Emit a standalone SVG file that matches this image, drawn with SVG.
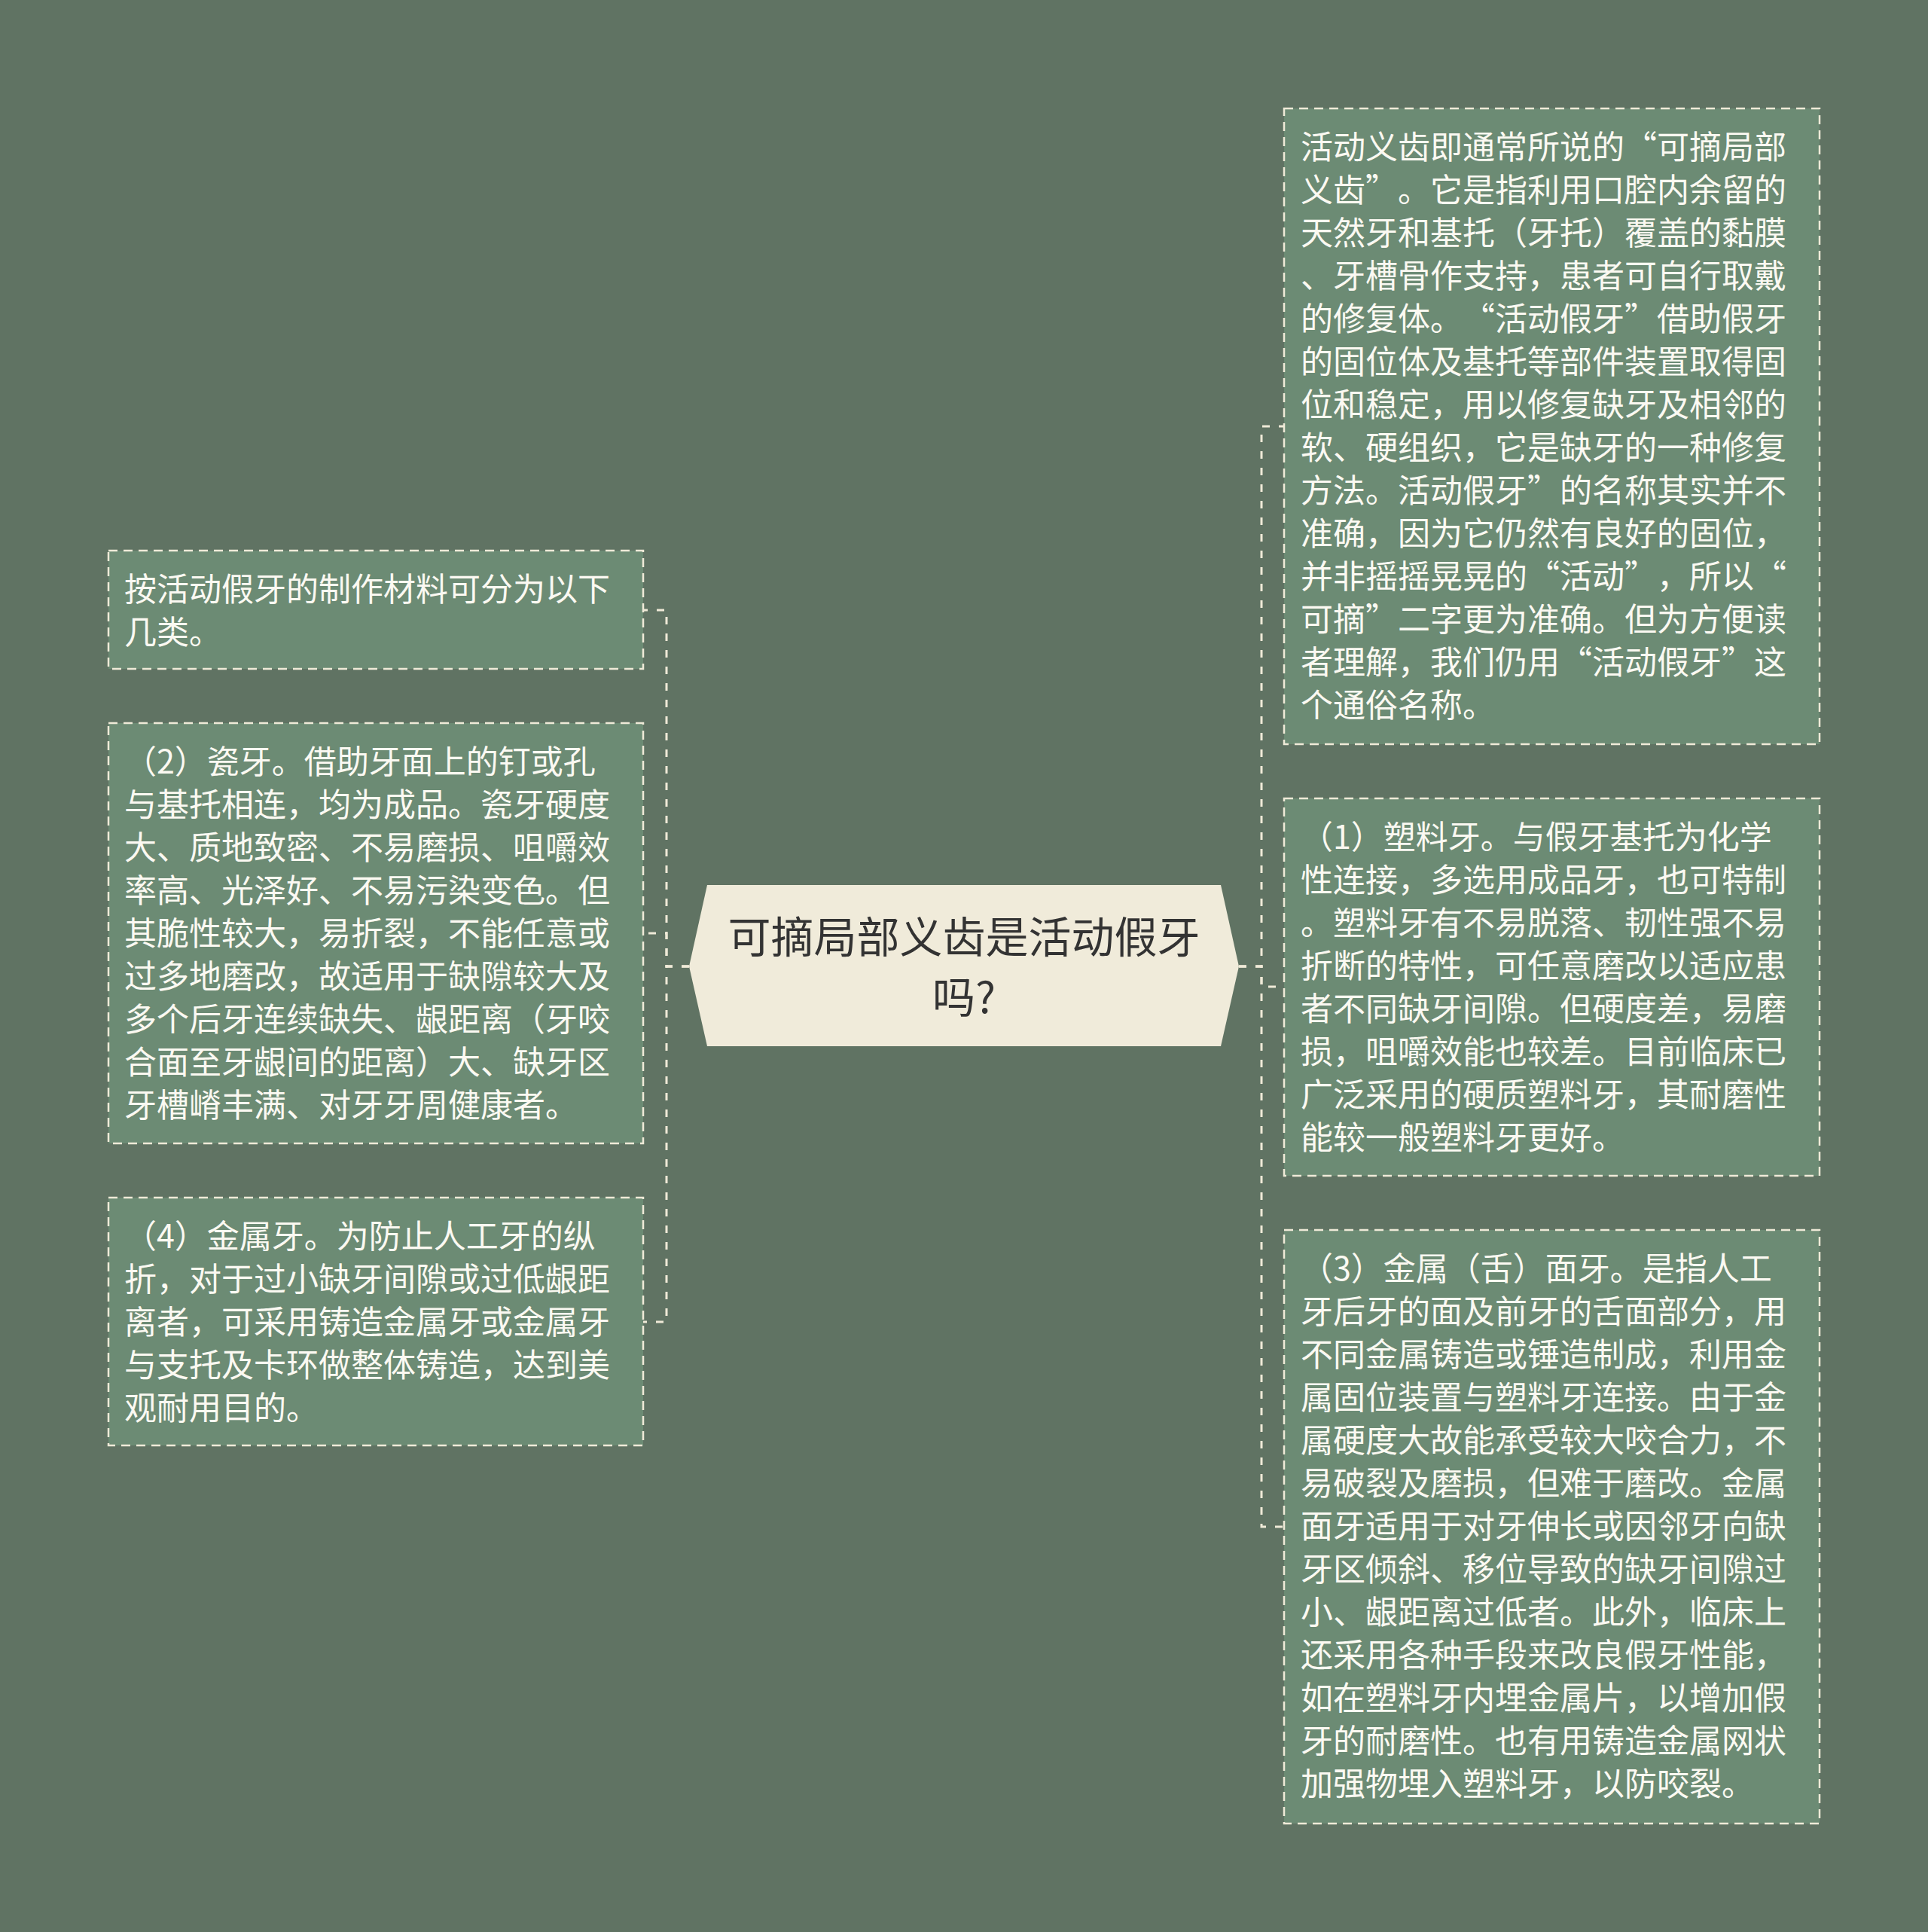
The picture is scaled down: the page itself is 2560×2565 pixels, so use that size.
<svg xmlns="http://www.w3.org/2000/svg" width="2560" height="2565" viewBox="0 0 2560 2565">
<style>
.bg{fill:#607363}
.box{fill:#6C8B74;stroke:#EFEAD8;stroke-width:2.5;stroke-dasharray:12 8}
.t{font-family:"Noto Sans CJK SC","Noto Sans",sans-serif;font-size:43px;fill:#FBF9F2;text-spacing-trim:space-all}
.ct{font-family:"Noto Sans CJK SC","Noto Sans",sans-serif;font-size:57px;fill:#333333;text-anchor:middle;text-spacing-trim:space-all}
.con{fill:none;stroke:#EFEAD8;stroke-width:3;stroke-dasharray:10 12}
.center{fill:#F0EBDA}
</style>
<rect class="bg" x="0" y="0" width="2560" height="2565"/>
<g id="connectors">
<path class="con" d="M915,1283 H885 V810 H854"/>
<path class="con" d="M915,1283 H885 V1239 H854"/>
<path class="con" d="M915,1283 H885 V1755 H854"/>
<path class="con" d="M1645,1283 H1675 V566 H1705"/>
<path class="con" d="M1645,1283 H1675 V1310 H1705"/>
<path class="con" d="M1645,1283 H1675 V2027 H1705"/>
</g>
<g id="center">
<polygon class="center" points="939,1175 1621,1175 1645,1283 1621,1389 939,1389 915,1283"/>
<text class="ct" x="1280" y="1265">可摘局部义齿是活动假牙</text>
<text class="ct" x="1280" y="1345">吗?</text>
</g>
<g id="L1">
<rect class="box" x="144" y="731" width="710" height="157"/>
<text class="t" x="165" y="798">按活动假牙的制作材料可分为以下</text>
<text class="t" x="165" y="855">几类。</text>
</g>
<g id="L2">
<rect class="box" x="144" y="960" width="710" height="558"/>
<text class="t" x="165" y="1027">（2）瓷牙。借助牙面上的钉或孔</text>
<text class="t" x="165" y="1084">与基托相连，均为成品。瓷牙硬度</text>
<text class="t" x="165" y="1141">大、质地致密、不易磨损、咀嚼效</text>
<text class="t" x="165" y="1198">率高、光泽好、不易污染变色。但</text>
<text class="t" x="165" y="1255">其脆性较大，易折裂，不能任意或</text>
<text class="t" x="165" y="1312">过多地磨改，故适用于缺隙较大及</text>
<text class="t" x="165" y="1369">多个后牙连续缺失、龈距离（牙咬</text>
<text class="t" x="165" y="1426">合面至牙龈间的距离）大、缺牙区</text>
<text class="t" x="165" y="1483">牙槽嵴丰满、对牙牙周健康者。</text>
</g>
<g id="L3">
<rect class="box" x="144" y="1590" width="710" height="329"/>
<text class="t" x="165" y="1657">（4）金属牙。为防止人工牙的纵</text>
<text class="t" x="165" y="1714">折，对于过小缺牙间隙或过低龈距</text>
<text class="t" x="165" y="1771">离者，可采用铸造金属牙或金属牙</text>
<text class="t" x="165" y="1828">与支托及卡环做整体铸造，达到美</text>
<text class="t" x="165" y="1885">观耐用目的。</text>
</g>
<g id="R1">
<rect class="box" x="1705" y="144" width="711" height="844"/>
<text class="t" x="1727" y="211">活动义齿即通常所说的“可摘局部</text>
<text class="t" x="1727" y="268">义齿”。它是指利用口腔内余留的</text>
<text class="t" x="1727" y="325">天然牙和基托（牙托）覆盖的黏膜</text>
<text class="t" x="1727" y="382">、牙槽骨作支持，患者可自行取戴</text>
<text class="t" x="1727" y="439">的修复体。“活动假牙”借助假牙</text>
<text class="t" x="1727" y="496">的固位体及基托等部件装置取得固</text>
<text class="t" x="1727" y="553">位和稳定，用以修复缺牙及相邻的</text>
<text class="t" x="1727" y="610">软、硬组织，它是缺牙的一种修复</text>
<text class="t" x="1727" y="667">方法。活动假牙”的名称其实并不</text>
<text class="t" x="1727" y="724">准确，因为它仍然有良好的固位，</text>
<text class="t" x="1727" y="781">并非摇摇晃晃的“活动”，所以“</text>
<text class="t" x="1727" y="838">可摘”二字更为准确。但为方便读</text>
<text class="t" x="1727" y="895">者理解，我们仍用“活动假牙”这</text>
<text class="t" x="1727" y="952">个通俗名称。</text>
</g>
<g id="R2">
<rect class="box" x="1705" y="1060" width="711" height="501"/>
<text class="t" x="1727" y="1127">（1）塑料牙。与假牙基托为化学</text>
<text class="t" x="1727" y="1184">性连接，多选用成品牙，也可特制</text>
<text class="t" x="1727" y="1241">。塑料牙有不易脱落、韧性强不易</text>
<text class="t" x="1727" y="1298">折断的特性，可任意磨改以适应患</text>
<text class="t" x="1727" y="1355">者不同缺牙间隙。但硬度差，易磨</text>
<text class="t" x="1727" y="1412">损，咀嚼效能也较差。目前临床已</text>
<text class="t" x="1727" y="1469">广泛采用的硬质塑料牙，其耐磨性</text>
<text class="t" x="1727" y="1526">能较一般塑料牙更好。</text>
</g>
<g id="R3">
<rect class="box" x="1705" y="1633" width="711" height="788"/>
<text class="t" x="1727" y="1700">（3）金属（舌）面牙。是指人工</text>
<text class="t" x="1727" y="1757">牙后牙的面及前牙的舌面部分，用</text>
<text class="t" x="1727" y="1814">不同金属铸造或锤造制成，利用金</text>
<text class="t" x="1727" y="1871">属固位装置与塑料牙连接。由于金</text>
<text class="t" x="1727" y="1928">属硬度大故能承受较大咬合力，不</text>
<text class="t" x="1727" y="1985">易破裂及磨损，但难于磨改。金属</text>
<text class="t" x="1727" y="2042">面牙适用于对牙伸长或因邻牙向缺</text>
<text class="t" x="1727" y="2099">牙区倾斜、移位导致的缺牙间隙过</text>
<text class="t" x="1727" y="2156">小、龈距离过低者。此外，临床上</text>
<text class="t" x="1727" y="2213">还采用各种手段来改良假牙性能，</text>
<text class="t" x="1727" y="2270">如在塑料牙内埋金属片，以增加假</text>
<text class="t" x="1727" y="2327">牙的耐磨性。也有用铸造金属网状</text>
<text class="t" x="1727" y="2384">加强物埋入塑料牙，以防咬裂。</text>
</g>
</svg>
